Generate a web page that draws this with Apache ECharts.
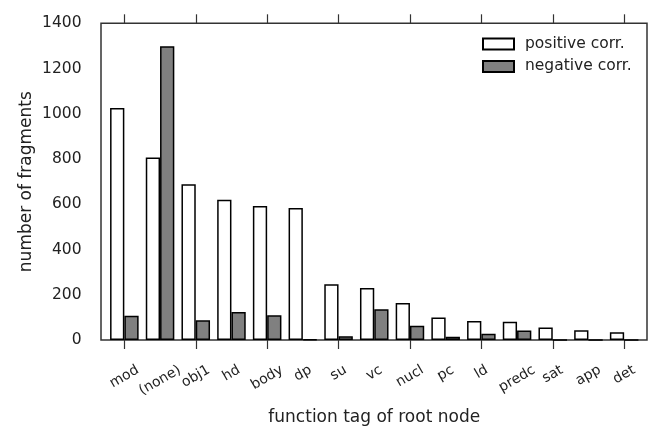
<!DOCTYPE html>
<html><head><meta charset="utf-8">
<script src="https://cdn.jsdelivr.net/npm/echarts@6/dist/echarts.min.js"></script>
<style>html,body{margin:0;padding:0;background:#fff}#c{width:664px;height:443px}</style>
</head><body><div id="c"></div>
<script>
const categories = ['mod','(none)','obj1','hd','body','dp','su','vc','nucl','pc','ld','predc','sat','app','det'];
const positiveCorr = [1026, 807, 689, 620, 592, 583, 246, 230, 164, 100, 84, 81, 55, 43, 34];
const negativeCorr = [107, 1299, 87, 124, 109, 3, 17, 136, 63, 14, 28, 42, 0, 0, 0];
const yMin = 0, yMax = 1400, yStep = 200;

const FONT = 'DejaVu Sans';
const TXT = '#222';
const XLABEL_SIZE = 14, ROT = 30, LABEL_BASE = 369;
const th = ROT * Math.PI / 180;

const chart = echarts.init(document.getElementById('c'), null, { renderer: 'canvas' });
const tickStyle = { show: true, alignWithLabel: true, length: 9, lineStyle: { color: '#333', width: 1.2 } };
chart.setOption({
  animation: false,
  backgroundColor: '#fff',
  textStyle: { fontFamily: FONT },
  grid: [
    { left: 106.5, right: 22, top: 23.3, bottom: 103 },
    { left: 101, right: 17, top: 23.3, bottom: 103, show: true, borderColor: '#333', borderWidth: 1.5, backgroundColor: 'transparent' }
  ],
  legend: {
    orient: 'vertical', left: 477, top: 30, itemWidth: 31, itemHeight: 11, itemGap: 4.4,
    icon: 'rect',
    textStyle: { fontSize: 15.5, fontFamily: FONT, color: TXT, lineHeight: 18, padding: [0, 0, 0, 6] },
    data: ['positive corr.', 'negative corr.']
  },
  xAxis: [
    {
      type: 'category', gridIndex: 0, position: 'bottom', data: categories,
      axisLine: { show: false }, axisTick: tickStyle,
      axisLabel: { show: false },
      name: 'function tag of root node', nameLocation: 'middle', nameGap: 69, nameMoveOverlap: false,
      nameTextStyle: { fontSize: 17, fontFamily: FONT, color: TXT },
      splitLine: { show: false }
    },
    {
      type: 'category', gridIndex: 0, position: 'top', data: categories,
      axisLine: { show: false }, axisTick: tickStyle, axisLabel: { show: false }, splitLine: { show: false }
    }
  ],
  yAxis: [{
    type: 'value', gridIndex: 0, min: yMin, max: yMax, interval: yStep,
    axisLine: { show: false }, axisTick: { show: false }, splitLine: { show: false },
    axisLabel: { margin: 25, fontSize: 15.5, fontFamily: FONT, color: TXT, formatter: function (v) { return String(v); } },
    name: 'number of fragments', nameLocation: 'middle', nameGap: 71, nameRotate: 90, nameMoveOverlap: false,
    nameTextStyle: { fontSize: 17, fontFamily: FONT, color: TXT }
  }],
  series: [
    { name: 'positive corr.', type: 'bar', xAxisIndex: 0, yAxisIndex: 0, data: positiveCorr,
      barGap: '0%', barCategoryGap: '20%', silent: true,
      itemStyle: { color: '#ffffff', borderColor: '#000', borderWidth: 1.5 } },
    { name: 'negative corr.', type: 'bar', xAxisIndex: 0, yAxisIndex: 0, data: negativeCorr,
      barGap: '0%', barCategoryGap: '20%', silent: true,
      itemStyle: { color: '#808080', borderColor: '#000', borderWidth: 1.5 } }
  ]
});

// Rotated, centre-aligned tick labels (matplotlib style), placed via the axis scale.
const ctx = document.createElement('canvas').getContext('2d');
ctx.font = XLABEL_SIZE + 'px "' + FONT + '"';
const labelEls = categories.map(function (name, i) {
  const w = ctx.measureText(name).width;
  const px = chart.convertToPixel({ xAxisIndex: 0 }, i);
  return {
    type: 'text', silent: true, x: px, y: LABEL_BASE + w * Math.sin(th) / 2, rotation: th,
    style: { text: name, fontSize: XLABEL_SIZE, fontFamily: FONT, fill: TXT, align: 'center', verticalAlign: 'middle' }
  };
});
chart.setOption({ graphic: labelEls });
</script></body></html>
